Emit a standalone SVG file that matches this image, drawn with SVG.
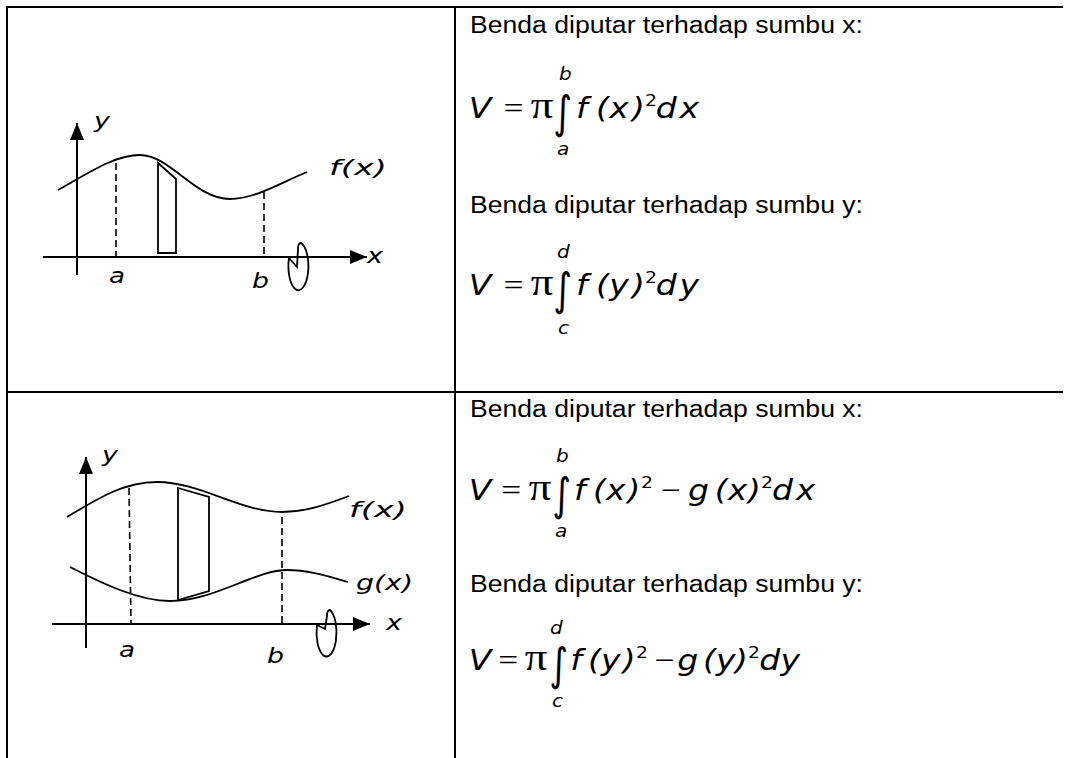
<svg xmlns="http://www.w3.org/2000/svg" width="1073" height="758" viewBox="0 0 1073 758">
<style>
.grid{stroke:#000;stroke-width:2;fill:none}
.crv{stroke:#000;stroke-width:1.8;fill:none}
.ax{stroke:#000;stroke-width:2;fill:none}
.dash{stroke:#000;stroke-width:1.6;fill:none;stroke-dasharray:7 4}
.lbl{font-family:"DejaVu Sans",Verdana,sans-serif;font-style:italic;font-size:22px;fill:#000}
.txt{font-family:"Liberation Sans",Arial,sans-serif;font-size:23px;fill:#000}
.m{font-family:"DejaVu Sans",Verdana,sans-serif;font-style:italic;font-size:28px;fill:#000}
.s{font-family:"Liberation Serif","Times New Roman",serif;font-size:30px;fill:#000}
.pi{font-family:"Liberation Serif","Times New Roman",serif;font-size:38px;fill:#000}
.int{font-family:"DejaVu Sans",sans-serif;font-size:45px;fill:#000}
.lim{font-family:"DejaVu Sans",Verdana,sans-serif;font-style:italic;font-size:17px;fill:#000}
.sup{font-family:"DejaVu Sans",Verdana,sans-serif;font-size:16px;fill:#000}
</style>
<defs>
<marker id="arr" viewBox="0 0 17 14" refX="17" refY="7" markerWidth="17" markerHeight="14" orient="auto" markerUnits="userSpaceOnUse">
<path d="M0,0 L17,7 L0,14 z" fill="#000"/>
</marker>
</defs>
<rect width="1073" height="758" fill="#fff"/>
<g id="table">
<line class="grid" x1="6" y1="7" x2="1063" y2="7"/>
<line class="grid" x1="7" y1="6" x2="7" y2="758"/>
<line class="grid" x1="455" y1="6" x2="455" y2="758"/>
<line class="grid" x1="7" y1="392" x2="1063" y2="392"/>
</g>
<g id="graph1">
<line class="ax" x1="77" y1="275" x2="77" y2="123" marker-end="url(#arr)"/>
<line class="ax" x1="43" y1="257" x2="367" y2="257" marker-end="url(#arr)"/>
<path class="crv" d="M58,190 C90,172 115,155 140,155 C170,155 195,199 230,199 C255,199 280,183 307,172"/>
<line class="dash" x1="116" y1="163" x2="116" y2="257"/>
<line class="dash" x1="264" y1="192" x2="264" y2="257"/>
<polygon class="crv" points="158,163 176,179 176,253 158,253"/>
<path class="crv" d="M289,258 L297,267 L298,249 Q298,243 301,243 A10 24 0 1 1 289,258"/>
<text class="lbl" x="94" y="128" textLength="16" lengthAdjust="spacingAndGlyphs">y</text>
<text class="lbl" x="367" y="263" textLength="16" lengthAdjust="spacingAndGlyphs">x</text>
<text class="lbl" x="109" y="283" textLength="16" lengthAdjust="spacingAndGlyphs">a</text>
<text class="lbl" x="252" y="288" textLength="17" lengthAdjust="spacingAndGlyphs">b</text>
<text class="lbl" x="329" y="175" textLength="58" lengthAdjust="spacingAndGlyphs">f(x)</text>
</g>
<g id="graph2">
<line class="ax" x1="86" y1="648" x2="86" y2="457" marker-end="url(#arr)"/>
<line class="ax" x1="52" y1="624" x2="370" y2="624" marker-end="url(#arr)"/>
<path class="crv" d="M67,517 C100,497 125,482 157,482 C200,482 240,512 282,512 C305,512 325,505 349,496"/>
<path class="crv" d="M70,567 C105,585 140,601 170,601 C215,601 255,570 287,570 C310,570 330,577 348,582"/>
<line class="dash" x1="129" y1="488" x2="131" y2="624"/>
<line class="dash" x1="282" y1="517" x2="282" y2="624"/>
<polygon class="crv" points="178,488 209,497 209,591 178,600"/>
<path class="crv" d="M317,625 L325,629 L327,616 Q327,610 330,610 A10 24 0 1 1 317,625"/>
<text class="lbl" x="102" y="462" textLength="16" lengthAdjust="spacingAndGlyphs">y</text>
<text class="lbl" x="386" y="630" textLength="16" lengthAdjust="spacingAndGlyphs">x</text>
<text class="lbl" x="119" y="657" textLength="16" lengthAdjust="spacingAndGlyphs">a</text>
<text class="lbl" x="267" y="663" textLength="17" lengthAdjust="spacingAndGlyphs">b</text>
<text class="lbl" x="349" y="517" textLength="58" lengthAdjust="spacingAndGlyphs">f(x)</text>
<text class="lbl" x="356" y="590" textLength="57" lengthAdjust="spacingAndGlyphs">g(x)</text>
</g>
<g id="formula1">
<text class="txt" x="470" y="33" textLength="393" lengthAdjust="spacingAndGlyphs">Benda diputar terhadap sumbu x:</text>
<text class="txt" x="470" y="213" textLength="393" lengthAdjust="spacingAndGlyphs">Benda diputar terhadap sumbu y:</text>
<g transform="matrix(1.18,0,0,1,-84.6,0)">
<text class="m" x="469" y="118">V</text>
<text class="s" x="498.5" y="118">=</text>
<text class="pi" x="521.5" y="118">π</text>
<text class="int" transform="translate(540.6,128) scale(0.68,1)">∫</text>
<text class="lim" x="545.4" y="80">b</text>
<text class="lim" x="543.7" y="155">a</text>
<text class="m" y="118"><tspan x="559.8">f</tspan><tspan x="576.8">(</tspan><tspan x="588">x</tspan><tspan x="607.3">)</tspan></text>
<text class="sup" x="618.3" y="106">2</text>
<text class="m" y="118"><tspan x="627.5">d</tspan><tspan x="647.5">x</tspan></text>
<text class="m" x="469" y="295">V</text>
<text class="s" x="498.5" y="295">=</text>
<text class="pi" x="521.5" y="295">π</text>
<text class="int" transform="translate(540.6,305) scale(0.68,1)">∫</text>
<text class="lim" x="543.7" y="258">d</text>
<text class="lim" x="544.5" y="334">c</text>
<text class="m" y="295"><tspan x="559.8">f</tspan><tspan x="576.8">(</tspan><tspan x="588">y</tspan><tspan x="607.3">)</tspan></text>
<text class="sup" x="618.3" y="283">2</text>
<text class="m" y="295"><tspan x="627.5">d</tspan><tspan x="647.5">y</tspan></text>
</g>
</g>
<g id="formula2">
<text class="txt" x="470" y="417" textLength="393" lengthAdjust="spacingAndGlyphs">Benda diputar terhadap sumbu x:</text>
<text class="txt" x="470" y="592" textLength="393" lengthAdjust="spacingAndGlyphs">Benda diputar terhadap sumbu y:</text>
<g transform="matrix(1.18,0,0,1,-84.6,0)">
<text class="m" x="469" y="500">V</text>
<text class="s" x="496.5" y="500">=</text>
<text class="pi" x="519.8" y="500">π</text>
<text class="int" transform="translate(539.8,510) scale(0.68,1)">∫</text>
<text class="lim" x="542.9" y="462">b</text>
<text class="lim" x="542" y="537">a</text>
<text class="m" y="500"><tspan x="558.1">f</tspan><tspan x="574.2">(</tspan><tspan x="585.3">x</tspan><tspan x="603.5">)</tspan></text>
<text class="sup" x="614.9" y="488">2</text>
<text class="s" x="631.9" y="500">−</text>
<text class="m" y="500"><tspan x="654.7">g</tspan><tspan x="677.4">(</tspan><tspan x="688.5">x</tspan><tspan x="705.6">)</tspan></text>
<text class="sup" x="716.7" y="488">2</text>
<text class="m" y="500"><tspan x="726">d</tspan><tspan x="746">x</tspan></text>
<text class="m" x="469" y="670">V</text>
<text class="s" x="494" y="670">=</text>
<text class="pi" x="516.5" y="670">π</text>
<text class="int" transform="translate(537.2,680) scale(0.68,1)">∫</text>
<text class="lim" x="537.8" y="634">d</text>
<text class="lim" x="539.5" y="707">c</text>
<text class="m" y="670"><tspan x="554.9">f</tspan><tspan x="570">(</tspan><tspan x="581">y</tspan><tspan x="599.5">)</tspan></text>
<text class="sup" x="610.6" y="658">2</text>
<text class="s" x="626.5" y="670">−</text>
<text class="m" y="670"><tspan x="645.6">g</tspan><tspan x="667.5">(</tspan><tspan x="678.5">y</tspan><tspan x="694.5">)</tspan></text>
<text class="sup" x="705.6" y="658">2</text>
<text class="m" y="670"><tspan x="715.2">d</tspan><tspan x="733.2">y</tspan></text>
</g>
</g>
</svg>
